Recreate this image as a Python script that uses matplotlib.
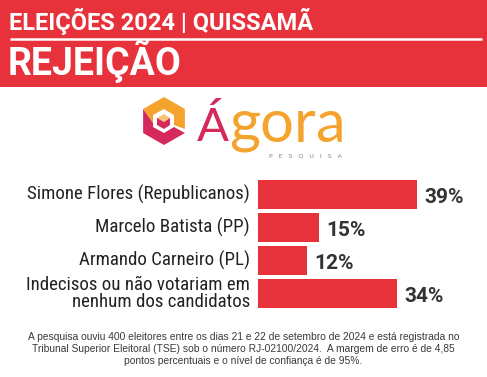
import matplotlib
matplotlib.use("Agg")
import matplotlib.pyplot as plt
from matplotlib.patches import Rectangle, Polygon
from matplotlib import font_manager

# Data
candidates = ["Simone Flores (Republicanos)", "Marcelo Batista (PP)",
              "Armando Carneiro (PL)", "Indecisos ou não votariam em\nnenhum dos candidatos"]
rejection = [39, 15, 12, 34]

title_top = "ELEIÇÕES 2024 | QUISSAMÃ"
title_main = "REJEIÇÃO"
footnote = ("A pesquisa ouviu 400 eleitores entre os dias 21 e 22 de setembro de 2024 e está registrada no\n"
            "Tribunal Superior Eleitoral (TSE) sob o número RJ-02100/2024.  A margem de erro é de 4,85\n"
            "pontos percentuais e o nível de confiança é de 95%.")

RED = "#E8323B"
ORANGE = "#F4A42E"
CRIMSON = "#D5295C"

# look for some condensed face
fonts = font_manager.fontManager.ttflist
names = {f.name for f in fonts}
narrow, stretch = "Roboto", "normal"
for cand in ["Roboto Condensed", "Liberation Sans Narrow", "Open Sans Condensed"]:
    if cand in names:
        narrow = cand
        break
else:
    if any(f.name == "DejaVu Sans" and f.stretch == "condensed" for f in fonts):
        narrow, stretch = "DejaVu Sans", "condensed"

W, H = 487, 377
fig = plt.figure(figsize=(W / 100, H / 100), dpi=100)
fig.patch.set_facecolor("white")

# overlay axes in pixel coordinates
bg = fig.add_axes([0, 0, 1, 1])
bg.set_xlim(0, W)
bg.set_ylim(H, 0)
bg.axis("off")

# header
bg.add_patch(Rectangle((0, 0), W, 87, color=RED, lw=0))
bg.plot([10, 482], [39, 39], color="white", lw=1.8, solid_capstyle="butt")
bg.text(9, 21, title_top, color="white", fontsize=17, fontweight="bold",
        family="Roboto", va="center", ha="left")
bg.text(8, 61, title_main, color="white", fontsize=27, fontweight="bold",
        family="Roboto", va="center", ha="left")

# logo: hexagon icon
cx, cy, r = 164, 121, 24
hx = [cx, cx + 0.87 * r, cx + 0.87 * r, cx, cx - 0.87 * r, cx - 0.87 * r]
hy = [cy - r, cy - 0.5 * r, cy + 0.5 * r, cy + r, cy + 0.5 * r, cy - 0.5 * r]
bg.add_patch(Polygon([(hx[5], hy[5]), (hx[0], hy[0]), (hx[1], hy[1]), (hx[2], hy[2] - 4),
                      (cx + 10, cy + 4), (cx + 10, cy - 6), (cx, cy - 12),
                      (cx - 11, cy - 6), (cx - 11, cy + 2)], color=ORANGE, lw=0))
bg.add_patch(Polygon([(hx[5], hy[5]), (cx - 11, cy + 2), (cx - 11, cy + 6), (cx, cy + 12),
                      (cx + 10, cy + 6), (hx[2], hy[2]), (hx[3], hy[3]), (hx[4], hy[4])],
                     color=CRIMSON, lw=0))
bg.add_patch(Polygon([(cx - 7, cy - 3), (cx, cy - 7), (cx + 6, cy - 3), (cx, cy + 1)],
                     color="#F8C27A", lw=0))
bg.add_patch(Polygon([(cx - 7, cy - 3), (cx, cy + 1), (cx + 6, cy - 3), (cx + 6, cy + 4),
                      (cx, cy + 8), (cx - 7, cy + 4)], color=CRIMSON, lw=0))
bg.text(197, 141, "Á", color=CRIMSON, fontsize=34, family="Lato", va="baseline", ha="left")
bg.text(229, 141, "gora", color=ORANGE, fontsize=43, family="Lato", va="baseline", ha="left")
bg.text(305, 156, "P   E   S   Q   U   I   S   A", color="#888888", fontsize=4.5,
        family="DejaVu Sans", va="center", ha="center")

# bars
px_per_pct = 4.08
xmax = 45
left_px, top_px, bottom_px = 258, 178, 310
ax = fig.add_axes([left_px / W, (H - bottom_px) / H, xmax * px_per_pct / W,
                   (bottom_px - top_px) / H])
ax.set_xlim(0, xmax)
ax.set_ylim(len(candidates) - 0.5, -0.5)
ax.axis("off")
ypos = list(range(len(candidates)))
bars = ax.barh(ypos, rejection, height=0.9, color=RED, lw=0)
for b, v, label in zip(bars, rejection, candidates):
    yc = b.get_y() + b.get_height() / 2
    ax.text(v + 1.8, yc + 0.1, f"{v}%", fontsize=15, fontweight="bold", color="#333333",
            family="Roboto", va="center", ha="left")
    ax.text(-2.0, yc, label, fontsize=13.6, color="#222222", family=narrow, stretch=stretch,
            va="center", ha="right", linespacing=0.9)

# footnote
bg.text(W / 2, 348.5, footnote, fontsize=7.4, color="#3a3a3a", family="Liberation Sans",
        ha="center", va="center", linespacing=1.25)

fig.savefig("out.png", dpi=100, facecolor="white")
